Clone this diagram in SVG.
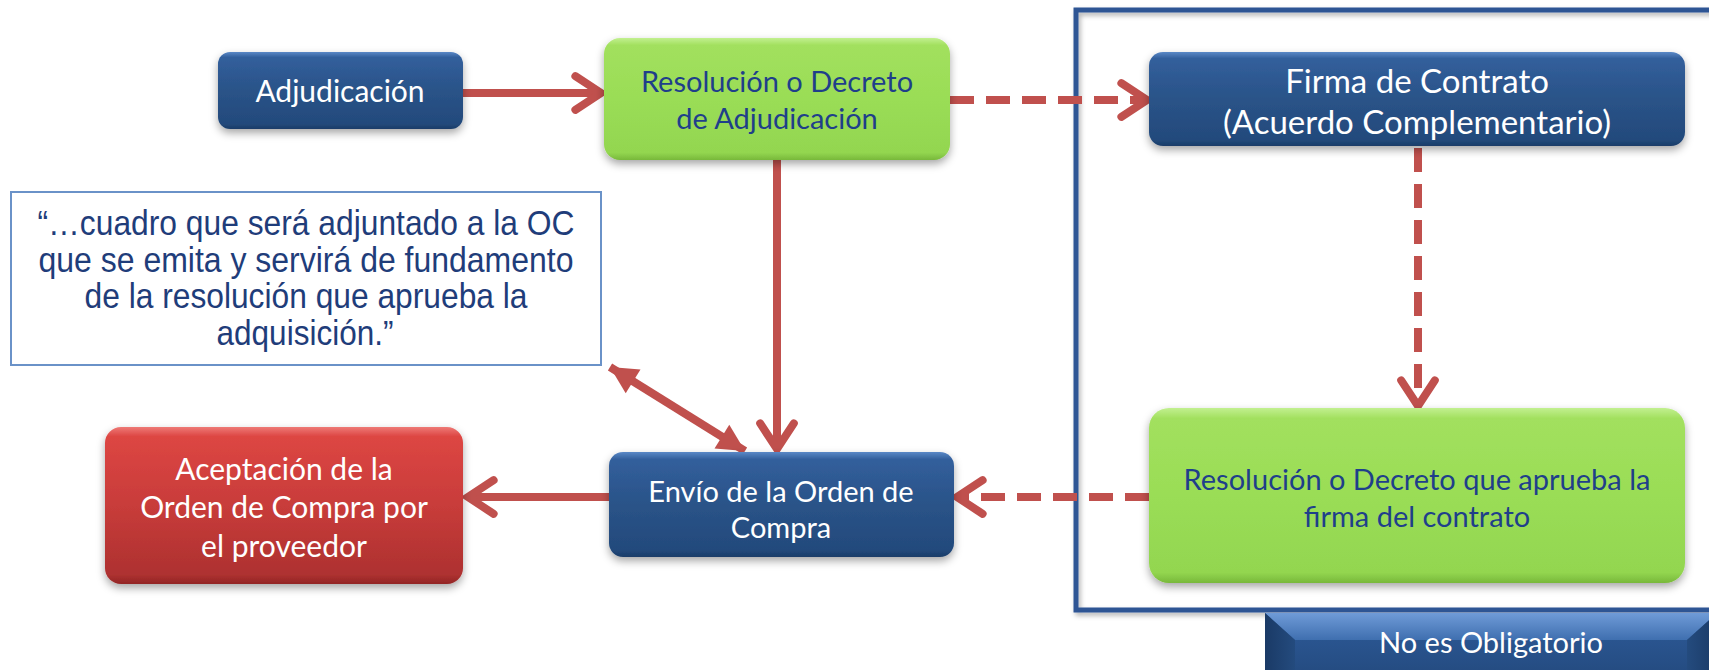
<svg xmlns="http://www.w3.org/2000/svg" width="1709" height="670" viewBox="0 0 1709 670">
<style>
.nt{font-family:Lato,"Open Sans","Liberation Sans",sans-serif;text-anchor:middle;}
.w{fill:#FFFFFF;}
.db{fill:#1F3F8A;}
.conn{fill:none;stroke:#C0504D;stroke-width:8;}
.dash{stroke-dasharray:24 12;}
.qt{font-family:"Liberation Sans",Arial,sans-serif;font-size:35px;fill:#1F3D7A;text-anchor:middle;}
</style>
<defs>
<linearGradient id="gBlue" x1="0" y1="0" x2="0" y2="1">
<stop offset="0" stop-color="#5A88C6"/>
<stop offset="0.07" stop-color="#325F9C"/>
<stop offset="0.5" stop-color="#2A5388"/>
<stop offset="0.93" stop-color="#234A7C"/>
<stop offset="1" stop-color="#1B3D68"/>
</linearGradient>
<linearGradient id="gGreen" x1="0" y1="0" x2="0" y2="1">
<stop offset="0" stop-color="#C2F090"/>
<stop offset="0.06" stop-color="#A2E05E"/>
<stop offset="0.5" stop-color="#9ADD56"/>
<stop offset="0.94" stop-color="#93D650"/>
<stop offset="1" stop-color="#78B83A"/>
</linearGradient>
<linearGradient id="gRed" x1="0" y1="0" x2="0" y2="1">
<stop offset="0" stop-color="#EE7A76"/>
<stop offset="0.06" stop-color="#DD4643"/>
<stop offset="0.5" stop-color="#C83C3A"/>
<stop offset="0.94" stop-color="#AE3130"/>
<stop offset="1" stop-color="#922626"/>
</linearGradient>
<linearGradient id="gBar" x1="0" y1="0" x2="0" y2="1">
<stop offset="0" stop-color="#3264A6"/>
<stop offset="0.4" stop-color="#2A5590"/>
<stop offset="1" stop-color="#244B80"/>
</linearGradient>
<linearGradient id="gBarTop" x1="0" y1="0" x2="0" y2="1">
<stop offset="0" stop-color="#6F9BD8"/>
<stop offset="1" stop-color="#3F6FAF"/>
</linearGradient>
<linearGradient id="gBarSide" x1="0" y1="0" x2="1" y2="0">
<stop offset="0" stop-color="#1A3A66"/>
<stop offset="1" stop-color="#244B7E"/>
</linearGradient>
<linearGradient id="gBarSideR" x1="1" y1="0" x2="0" y2="0">
<stop offset="0" stop-color="#1A3A66"/>
<stop offset="1" stop-color="#244B7E"/>
</linearGradient>
<filter id="sh" x="-10%" y="-10%" width="120%" height="130%">
<feDropShadow dx="0" dy="4" stdDeviation="4" flood-color="#000" flood-opacity="0.35"/>
</filter>
<filter id="sh2" x="-5%" y="-5%" width="110%" height="110%">
<feDropShadow dx="2" dy="3" stdDeviation="2.5" flood-color="#000" flood-opacity="0.3"/>
</filter>
<marker id="chev" viewBox="-5 -4 6 8" refX="0" refY="0" markerWidth="6" markerHeight="8" orient="auto" markerUnits="strokeWidth" overflow="visible">
<path d="M-3.2,-2.1 L0,0 L-3.2,2.1" fill="none" stroke="#C0504D" stroke-width="1" stroke-linecap="round" stroke-linejoin="miter"/>
</marker>
<marker id="tri" viewBox="-4 -2 4 4" refX="0" refY="0" markerWidth="4" markerHeight="4" orient="auto-start-reverse" markerUnits="strokeWidth" overflow="visible">
<path d="M0,0 L-3.4,-1.75 L-3.4,1.75 Z" fill="#C0504D"/>
</marker>
</defs>
<rect x="0" y="0" width="1709" height="670" fill="#FFFFFF"/>

<g id="optional-frame">
<rect x="1076" y="10" width="660" height="600" fill="none" stroke="#2E5594" stroke-width="5" filter="url(#sh2)"/>
</g>

<g id="no-obligatorio">
<rect x="1265" y="613" width="452" height="62" fill="url(#gBar)"/>
<polygon points="1265,613 1717,613 1687,640 1295,640" fill="url(#gBarTop)"/>
<polygon points="1265,613 1295,640 1295,670 1265,670" fill="url(#gBarSide)"/>
<polygon points="1717,613 1687,640 1687,670 1717,670" fill="url(#gBarSideR)"/>
<text class="nt w" x="1491" y="653" font-size="29">No es Obligatorio</text>
</g>

<g id="quote">
<rect x="11" y="192" width="590" height="173" fill="#FFFFFF" stroke="#6A92C8" stroke-width="2"/>
<text class="qt" x="306" y="235" textLength="537" lengthAdjust="spacingAndGlyphs">“…cuadro que será adjuntado a la OC</text>
<text class="qt" x="306" y="272" textLength="535" lengthAdjust="spacingAndGlyphs">que se emita y servirá de fundamento</text>
<text class="qt" x="306" y="308" textLength="443" lengthAdjust="spacingAndGlyphs">de la resolución que aprueba la</text>
<text class="qt" x="305" y="345" textLength="177" lengthAdjust="spacingAndGlyphs">adquisición.”</text>
</g>

<g id="connectors">
<line class="conn" x1="463" y1="93" x2="601" y2="93" marker-end="url(#chev)"/>
<line class="conn dash" x1="950" y1="100" x2="1147" y2="100" marker-end="url(#chev)"/>
<line class="conn dash" x1="1418" y1="148" x2="1418" y2="406" marker-end="url(#chev)"/>
<line class="conn dash" x1="1149" y1="497" x2="957" y2="497" marker-end="url(#chev)"/>
<line class="conn" x1="777" y1="160" x2="777" y2="449" marker-end="url(#chev)"/>
<line class="conn" x1="610" y1="497" x2="468" y2="497" marker-end="url(#chev)"/>
<line class="conn" stroke-width="7" x1="610" y1="367" x2="745" y2="451" marker-start="url(#tri)" marker-end="url(#tri)"/>
</g>

<g id="adjudicacion">
<rect x="218" y="52" width="245" height="77" rx="12" fill="url(#gBlue)" filter="url(#sh)"/>
<text class="nt w" x="340" y="102" font-size="30">Adjudicación</text>
</g>

<g id="resolucion-adjudicacion">
<rect x="604" y="38" width="346" height="122" rx="16" fill="url(#gGreen)" filter="url(#sh)"/>
<text class="nt db" x="777" y="92" font-size="29">Resolución o Decreto</text>
<text class="nt db" x="777" y="129" font-size="29">de Adjudicación</text>
</g>

<g id="firma-contrato">
<rect x="1149" y="52" width="536" height="94" rx="14" fill="url(#gBlue)" filter="url(#sh)"/>
<text class="nt w" x="1417" y="93" font-size="33">Firma de Contrato</text>
<text class="nt w" x="1417" y="134" font-size="33">(Acuerdo Complementario)</text>
</g>

<g id="resolucion-firma">
<rect x="1149" y="408" width="536" height="175" rx="20" fill="url(#gGreen)" filter="url(#sh)"/>
<text class="nt db" x="1417" y="490" font-size="29">Resolución o Decreto que aprueba la</text>
<text class="nt db" x="1417" y="527" font-size="29">firma del contrato</text>
</g>

<g id="envio-oc">
<rect x="609" y="452" width="345" height="105" rx="14" fill="url(#gBlue)" filter="url(#sh)"/>
<text class="nt w" x="781" y="502" font-size="29">Envío de la Orden de</text>
<text class="nt w" x="781" y="538" font-size="29">Compra</text>
</g>

<g id="aceptacion">
<rect x="105" y="427" width="358" height="157" rx="16" fill="url(#gRed)" filter="url(#sh)"/>
<text class="nt w" x="284" y="480" font-size="30">Aceptación de la</text>
<text class="nt w" x="284" y="518" font-size="30">Orden de Compra por</text>
<text class="nt w" x="284" y="557" font-size="30">el proveedor</text>
</g>
</svg>
